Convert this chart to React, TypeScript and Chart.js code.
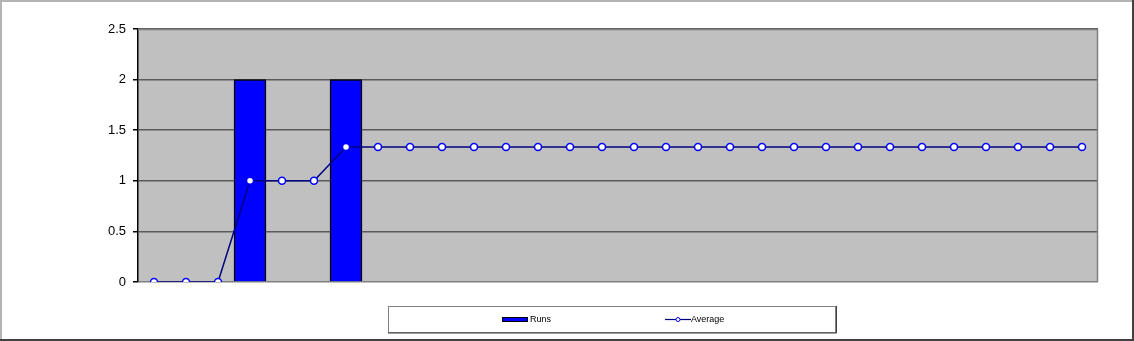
import React, { useEffect, useRef } from "react";
import { Chart, registerables } from "chart.js";

Chart.register(...registerables);

const categories: string[] = Array.from({ length: 30 }, (_, i) => String(i + 1));
const runs: number[] = [0, 0, 0, 2, 0, 0, 2, 0, 0, 0, 0, 0, 0, 0, 0, 0, 0, 0, 0, 0, 0, 0, 0, 0, 0, 0, 0, 0, 0, 0];
const average: number[] = [
  0, 0, 0, 1, 1, 1, 1.3333, 1.3333, 1.3333, 1.3333, 1.3333, 1.3333, 1.3333, 1.3333, 1.3333,
  1.3333, 1.3333, 1.3333, 1.3333, 1.3333, 1.3333, 1.3333, 1.3333, 1.3333, 1.3333, 1.3333,
  1.3333, 1.3333, 1.3333, 1.3333,
];
const yTicks: number[] = [0, 0.5, 1, 1.5, 2, 2.5];
const seriesNames: string[] = ["Runs", "Average"];

const W = 1134;
const H = 341;

const framePlugin = {
  id: "frame",
  beforeDraw(chart: any) {
    const { ctx, chartArea } = chart;
    ctx.save();
    ctx.fillStyle = "#ffffff";
    ctx.fillRect(0, 0, W, H);
    ctx.strokeStyle = "#b4b4b4";
    ctx.lineWidth = 2;
    ctx.beginPath();
    ctx.moveTo(1, H);
    ctx.lineTo(1, 1);
    ctx.lineTo(W, 1);
    ctx.stroke();
    ctx.strokeStyle = "#404040";
    ctx.lineWidth = 2;
    ctx.beginPath();
    ctx.moveTo(W - 1, 0);
    ctx.lineTo(W - 1, H - 1);
    ctx.lineTo(0, H - 1);
    ctx.stroke();
    ctx.fillStyle = "#c0c0c0";
    ctx.fillRect(chartArea.left, chartArea.top, chartArea.right - chartArea.left, chartArea.bottom - chartArea.top);
    ctx.restore();
  },
  afterDatasetsDraw(chart: any) {
    const { ctx, chartArea } = chart;
    ctx.save();
    ctx.strokeStyle = "#808080";
    ctx.lineWidth = 1.5;
    ctx.beginPath();
    ctx.moveTo(chartArea.left, chartArea.top + 0.5);
    ctx.lineTo(chartArea.right - 0.5, chartArea.top + 0.5);
    ctx.lineTo(chartArea.right - 0.5, chartArea.bottom);
    ctx.stroke();
    ctx.restore();
  },
  afterDraw(chart: any) {
    const { ctx } = chart;
    ctx.save();
    ctx.strokeStyle = "#808080";
    ctx.lineWidth = 1;
    ctx.strokeRect(388.5, 306.5, 447, 26);
    ctx.strokeStyle = "#404040";
    ctx.beginPath();
    ctx.moveTo(836.5, 306);
    ctx.lineTo(836.5, 333);
    ctx.lineTo(388, 333);
    ctx.stroke();
    ctx.fillStyle = "#0000ff";
    ctx.fillRect(502, 317, 26, 5);
    ctx.strokeStyle = "#000000";
    ctx.lineWidth = 1;
    ctx.strokeRect(502.5, 317.5, 25, 4);
    ctx.font = "9px 'Liberation Sans', Arial, sans-serif";
    ctx.fillStyle = "#000000";
    ctx.textBaseline = "middle";
    ctx.textAlign = "left";
    ctx.fillText(seriesNames[0], 530, 320);
    ctx.strokeStyle = "#000080";
    ctx.lineWidth = 1.2;
    ctx.beginPath();
    ctx.moveTo(665, 319.5);
    ctx.lineTo(691, 319.5);
    ctx.stroke();
    ctx.beginPath();
    ctx.arc(678, 319.5, 2, 0, Math.PI * 2);
    ctx.fillStyle = "#ffffff";
    ctx.fill();
    ctx.strokeStyle = "#0000ff";
    ctx.lineWidth = 1;
    ctx.stroke();
    ctx.fillStyle = "#000000";
    ctx.fillText(seriesNames[1], 691, 320);
    ctx.restore();
  },
};

export default function App() {
  const ref = useRef<HTMLCanvasElement | null>(null);

  useEffect(() => {
    document.body.style.margin = "0";
    const canvas = ref.current;
    if (!canvas) return;
    const chart = new Chart(canvas, {
      type: "bar",
      data: {
        labels: categories,
        datasets: [
          {
            type: "line",
            label: seriesNames[1],
            data: average,
            borderColor: "#000080",
            borderWidth: 1.5,
            pointRadius: 3.5,
            pointBorderWidth: 1.5,
            pointBorderColor: "#0000ff",
            pointBackgroundColor: "#ffffff",
            tension: 0,
            order: 0,
          } as any,
          {
            type: "bar",
            label: seriesNames[0],
            data: runs,
            backgroundColor: "#0000ff",
            borderColor: "#000000",
            borderWidth: 1.5,
            borderSkipped: "bottom",
            barPercentage: 1,
            categoryPercentage: 1,
            order: 1,
          } as any,
        ],
      },
      options: {
        responsive: false,
        animation: false,
        events: [],
        layout: { padding: { left: 0, top: 29, right: 36, bottom: 59 } },
        plugins: {
          legend: { display: false },
          tooltip: { enabled: false },
        },
        scales: {
          x: {
            display: false,
            offset: true,
          },
          y: {
            min: 0,
            max: 2.5,
            afterBuildTicks(scale: any) {
              scale.ticks = yTicks.map((v) => ({ value: v }));
            },
            afterFit(scale: any) {
              scale.width = 138;
              scale.paddingTop = 0;
              scale.paddingBottom = 0;
            },
            ticks: {
              color: "#000000",
              padding: 7,
              font: { family: "'Liberation Sans', Arial, sans-serif", size: 13 },
              callback: (v: any) => String(v),
            },
            grid: {
              color: (c: any) => (c.tick && c.tick.value === 0 ? "#808080" : "#5a5a5a"),
              lineWidth: 1.5,
              tickColor: "#000000",
              tickLength: 5,
              drawOnChartArea: true,
            },
            border: { display: true, color: "#000000", width: 1.5 },
          },
        },
      },
      plugins: [framePlugin],
    });
    return () => chart.destroy();
  }, []);

  return (
    <div style={{ position: "relative", width: W, height: H }}>
      <canvas ref={ref} width={W} height={H} style={{ display: "block", width: W, height: H }} />
    </div>
  );
}
